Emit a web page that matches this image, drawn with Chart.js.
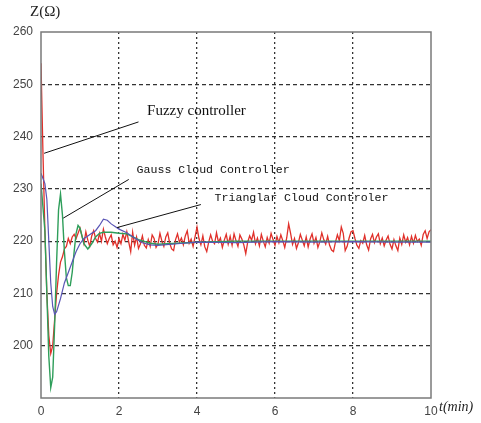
<!DOCTYPE html>
<html>
<head>
<meta charset="utf-8">
<script src="https://cdn.jsdelivr.net/npm/chart.js@4"></script>
<style>
  body { margin: 0; background: #fff; }
  #wrap { width: 481px; height: 423px; }
</style>
</head>
<body>
<div id="wrap"><canvas id="chart" width="481" height="423"></canvas></div>
<script>
// fuzzy controller, sampled every 0.05 min from 0 to 10
let fuzzyStep = 0.05;
let fuzzyZ = [
  254, 237, 222, 210, 202, 198.5, 200, 205, 210, 213.5, 216, 217, 218.5, 219, 220.5, 219.5, 220.8, 221.3, 220.5, 221.5,
  222.5, 221, 219.5, 221.8, 220.2, 219, 221, 222, 220.5, 219.8, 221.5, 220, 222.3, 220.8, 219.5, 220.5, 221.2, 219.3, 220, 218.8,
  220.5, 219.5, 221.3, 220.2, 221.8, 219.8, 218, 221.7, 219.2, 220.8, 218.6, 219.5, 221, 219.2, 218.7, 220.3, 219, 221.2, 220.5, 218.8,
  219.5, 221.5, 220, 219, 220.8, 221.6, 219.6, 218.5, 218.2, 220.3, 221.4, 219.8, 220.6, 219.3, 221, 222, 219.6, 220.4, 219, 220.8,
  222.7, 220.5, 219.3, 221, 218.9, 218, 219.8, 221.2, 220, 219.5, 221.6, 219.8, 220.6, 218.8, 220.2, 221.3, 219.4, 220.9, 219.2, 221.4,
  220.1, 219, 221.2, 220.4, 219.3, 217.6, 219.8, 221, 220.2, 221.7, 219.5, 220.6, 219.1, 221.3, 220, 218.9, 220.7, 219.6, 221.5, 220.3,
  219.2, 220.9, 219.7, 221.2, 220.1, 218.8, 220.6, 223.3, 221.5, 219.4, 220.5, 218.6, 219.7, 221.3, 220.2, 219.1, 220.8, 218.9, 220.4, 221.4,
  219.6, 220.7, 218.8, 219.9, 221.6, 220.3, 219.4, 220.9, 219.2, 218.3, 218, 219.8, 221.2, 220.1, 222.7, 221.5, 218.2, 219, 220.6, 221.8,
  222, 220.5, 219.2, 218.6, 220.1, 219.6, 221.1, 219.3, 218.3, 220.4, 221.3, 219.7, 220.8, 221.4, 219.5, 220.6, 219.1, 220.2, 221, 219.4,
  218.5, 220.3, 219.1, 218.2, 220.6, 219.4, 221.2, 219.8, 220.7, 219.3, 220.9, 219.6, 221.1, 219.9, 220.4, 219.2, 221.3, 222, 220.5, 221.8,
  222.2
];

let gaussT = [0, 0.1, 0.15, 0.2, 0.25, 0.3, 0.35, 0.4, 0.45, 0.5, 0.55, 0.6, 0.65, 0.7, 0.75, 0.8, 0.85, 0.9, 0.95,
  1.0, 1.1, 1.2, 1.3, 1.4, 1.5, 1.6, 1.8, 2.0, 2.2, 2.5, 2.8, 3.0, 3.5, 4, 5, 6, 7, 8, 9, 10];
let gaussZ = [231, 222, 210, 198, 192, 194, 204, 216, 226, 229, 225, 218, 213, 211.5, 211.5, 214, 218, 221.5, 223,
  222.5, 219.5, 218.5, 219.5, 220.8, 221.5, 221.7, 221.7, 221.5, 221.4, 220.3, 219.6, 219.4, 219.6, 219.8, 220, 220, 220, 220, 220, 220];

let triT = [0, 0.1, 0.15, 0.2, 0.25, 0.3, 0.35, 0.4, 0.5, 0.6, 0.7, 0.8, 0.9, 1.0, 1.1, 1.2, 1.3, 1.4, 1.5, 1.6,
  1.7, 1.8, 1.9, 2.0, 2.2, 2.4, 2.6, 2.8, 3.0, 3.5, 4, 5, 6, 7, 8, 9, 10];
let triZ = [233, 231, 228, 220, 212, 207.5, 206, 206.5, 209, 212, 214, 216, 218, 219.5, 220.5, 221, 221.5, 222, 223, 224.2,
  224, 223.3, 222.8, 222.3, 221.6, 220.6, 219.7, 219.3, 219.2, 219.5, 219.8, 219.7, 219.9, 219.8, 219.9, 219.8, 219.8];

let xTicks = [0, 2, 4, 6, 8, 10];
let yTicks = [200, 210, 220, 230, 240, 250, 260];

// callouts: [label, line start t, z, line end t, z, text t, z, font]
let callouts = [
  ["Fuzzy controller", 0.08, 236.8, 2.5, 242.8, 2.72, 244.9, "15px 'Liberation Serif'"],
  ["Gauss Cloud Controller", 0.57, 224.4, 2.25, 231.8, 2.45, 233.6, "11.6px 'Liberation Mono'"],
  ["Trianglar Cloud Controler", 1.95, 222.6, 4.1, 227.0, 4.45, 228.3, "11.6px 'Liberation Mono'"]
];

function pts(ts, zs) {
  return zs.map((z, i) => ({ x: ts[i], y: z }));
}
let fuzzyPts = fuzzyZ.map((z, i) => ({ x: +(i * fuzzyStep).toFixed(2), y: z }));

let framePlugin = {
  id: "frame",
  afterDatasetsDraw(chart) {
    let c = chart.ctx, a = chart.chartArea;
    let xs = chart.scales.x, ys = chart.scales.y;
    c.save();
    c.strokeStyle = "#7a7a7a";
    c.lineWidth = 1.5;
    c.strokeRect(a.left, a.top, a.right - a.left, a.bottom - a.top);
    c.strokeStyle = "#111";
    c.lineWidth = 1;
    c.fillStyle = "#111";
    c.textBaseline = "middle";
    callouts.forEach(cl => {
      c.beginPath();
      c.moveTo(xs.getPixelForValue(cl[1]), ys.getPixelForValue(cl[2]));
      c.lineTo(xs.getPixelForValue(cl[3]), ys.getPixelForValue(cl[4]));
      c.stroke();
      c.font = cl[7];
      c.fillText(cl[0], xs.getPixelForValue(cl[5]), ys.getPixelForValue(cl[6]));
    });
    c.font = "15px 'Liberation Serif'";
    c.fillStyle = "#222";
    c.fillText("Z(\u03A9)", a.left - 11, 12);
    c.font = "italic 14px 'Liberation Serif'";
    c.fillText("t(min)", a.right + 8, a.bottom + 9);
    c.restore();
  }
};

let ctx = document.getElementById("chart").getContext("2d");

let chart = new Chart(ctx, {
  type: "line",
  data: {
    datasets: [
      { label: "Triangular Cloud Controller", data: pts(triT, triZ), borderColor: "#5a55b5", borderWidth: 1.2 },
      { label: "Gauss Cloud Controller", data: pts(gaussT, gaussZ), borderColor: "#2e9e5a", borderWidth: 1.4 },
      { label: "Fuzzy controller", data: fuzzyPts, borderColor: "#e0302a", borderWidth: 1.3 }
    ]
  },
  options: {
    responsive: false,
    animation: false,
    layout: { padding: { left: 0, right: 50, top: 32, bottom: 0 } },
    elements: { point: { radius: 0 }, line: { tension: 0 } },
    plugins: { legend: { display: false }, tooltip: { enabled: false } },
    scales: {
      x: {
        type: "linear",
        min: 0, max: 10,
        afterFit: s => { s.height = 25; },
        afterBuildTicks: s => { s.ticks = xTicks.map(v => ({ value: v })); },
        border: { display: false, dash: [2, 3] },
        grid: {
          drawTicks: false,
          color: c => (c.tick.value === 0 || c.tick.value === 10) ? "rgba(0,0,0,0)" : "#333",
          lineWidth: 1.3
        },
        ticks: { color: "#444", font: { family: "'Liberation Sans'", size: 12 }, padding: 6, maxRotation: 0 }
      },
      y: {
        min: 190, max: 260,
        afterFit: s => { s.width = 41; },
        afterBuildTicks: s => { s.ticks = yTicks.map(v => ({ value: v })); },
        border: { display: false, dash: [4, 3] },
        grid: {
          drawTicks: false,
          color: c => (c.tick.value === 260) ? "rgba(0,0,0,0)" : "#333",
          lineWidth: 1.2
        },
        ticks: { color: "#444", font: { family: "'Liberation Sans'", size: 12 }, padding: 8 }
      }
    }
  },
  plugins: [framePlugin]
});
</script>
</body>
</html>
